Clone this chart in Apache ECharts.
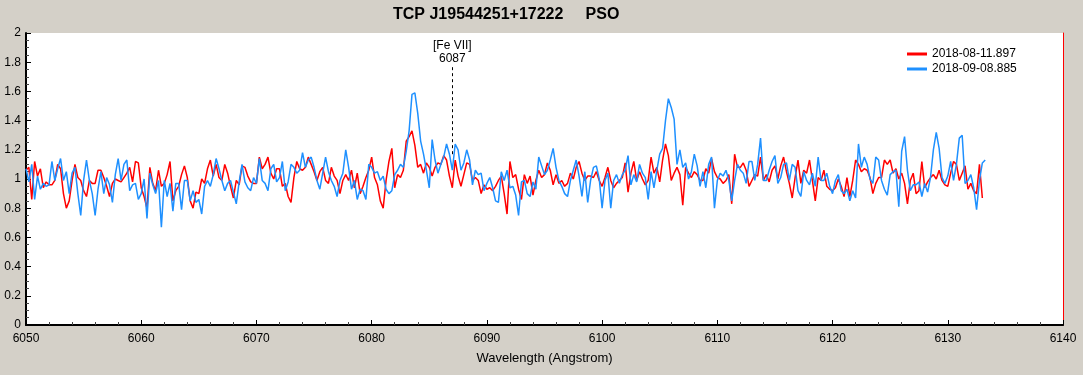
<!DOCTYPE html>
<html>
<head>
<meta charset="utf-8">
<script src="https://cdn.jsdelivr.net/npm/echarts@6/dist/echarts.min.js"></script>
<style>
    html, body { margin: 0; padding: 0; background: #d4d0c8; }
    #chartsdiv { width: 1083px; height: 375px; }
</style>
</head>
<body>
<div id="chartsdiv"></div>
<script>
// 波长网格 (Angstrom)
var waveStart = 6050;
var waveStep = 0.25;
var xTicks = [6050, 6060, 6070, 6080, 6090, 6100, 6110, 6120, 6130, 6140];
var seriesNames = ['2018-08-11.897', '2018-09-08.885'];
var lineMark = { wave: 6087, label: '[Fe VII]\n6087' };

// 2018-08-11.897 (红)
var fluxRed = [
    1.06,1.08,0.86,1.12,1.02,1.07,0.94,0.98,0.96,0.96,0.99,1.10,1.07,0.90,0.80,0.85,0.99,1.10,1.01,0.99,
    0.92,0.88,0.99,0.97,0.97,1.06,1.06,1.01,0.95,0.88,0.97,1.00,0.99,0.98,1.01,1.04,1.08,0.98,1.12,1.11,
    0.94,0.88,0.80,1.08,
    0.97,0.92,1.06,0.95,0.97,1.03,1.12,0.85,0.92,0.95,1.03,1.09,1.01,0.85,0.80,0.91,0.90,1.00,0.97,1.07,
    1.13,1.02,1.10,1.01,0.99,1.10,1.04,0.95,0.87,0.99,0.96,1.09,1.08,1.02,0.98,0.97,0.97,1.15,1.07,1.10,1.15,
    1.04,1.00,1.07,1.07,0.95,0.97,0.88,0.84,1.01,1.12,1.07,1.06,1.08,1.15,1.10,1.05,0.99,1.05,1.08,0.99,
    0.97,1.08,1.02,0.99,0.90,0.99,1.03,0.99,1.06,0.94,1.04,0.90,0.95,1.01,1.06,1.15,1.01,0.96,0.85,0.80,0.99,1.12,
    1.21,0.94,1.03,1.01,1.06,1.26,1.29,1.33,1.23,1.08,1.10,1.04,1.11,1.08,1.02,1.08,1.11,1.10,1.16,1.13,
    1.02,0.94,1.13,1.02,0.95,1.03,1.11,1.10,0.99,1.01,0.99,0.90,0.96,0.93,0.94,0.92,0.95,0.99,1.02,0.90,0.76,
    1.12,1.01,1.03,0.93,0.86,1.03,0.97,1.02,0.89,0.99,1.06,1.01,1.03,1.11,1.06,0.96,1.03,0.97,0.99,0.95,
    0.97,1.04,1.00,1.08,1.12,1.04,0.99,1.02,1.02,1.01,1.05,0.99,0.95,1.01,1.08,0.99,0.94,0.97,0.99,1.01,1.11,0.91,
    1.04,1.12,0.99,1.05,1.00,0.96,0.99,1.15,1.04,1.08,0.98,1.13,1.24,1.16,0.99,1.04,1.08,1.03,0.82,1.08,
    1.04,1.01,1.05,1.03,0.99,0.99,1.07,1.04,1.14,1.05,1.01,1.00,0.97,0.99,1.03,0.83,1.17,1.08,1.08,1.11,1.06,0.95,
    0.99,1.03,1.02,1.15,0.99,1.03,0.98,1.06,1.09,1.00,1.09,1.15,1.05,0.97,0.87,1.01,1.13,0.97,1.06,1.04,
    1.13,0.99,0.85,1.01,0.99,1.06,0.95,0.93,0.92,0.94,1.00,0.95,0.88,1.01,0.88,0.99,1.13,1.10,1.05,1.07,1.06,
    1.01,0.90,0.97,1.01,1.01,1.13,1.10,1.13,1.04,1.07,1.00,1.04,0.97,0.83,0.99,1.04,0.90,0.92,1.12,0.94,
    0.98,1.01,1.03,1.00,1.06,0.99,0.96,0.95,1.04,1.12,1.10,0.99,1.04,1.09,0.93,0.97,0.92,0.90,1.10,0.87
];

// 2018-09-08.885 (蓝)
var fluxBlue = [
    1.07,0.98,1.10,0.86,1.02,0.93,0.97,0.95,0.96,1.12,0.99,1.07,1.14,0.99,1.05,0.90,1.04,1.08,0.90,0.75,
    0.99,1.13,0.99,0.90,0.75,0.93,1.05,0.90,1.01,0.96,0.84,1.03,1.14,0.99,1.10,1.13,0.92,0.96,0.97,0.86,
    0.90,1.00,0.73,1.04,
    0.96,0.90,0.99,0.67,0.99,0.88,0.97,0.78,0.97,0.97,0.79,0.99,0.99,0.85,0.92,0.84,0.86,0.76,0.95,0.99,
    0.95,1.03,1.14,1.07,0.99,0.92,0.97,0.99,0.91,0.83,0.98,1.10,0.98,0.94,0.92,1.01,0.97,1.14,0.99,0.97,0.92,
    1.07,1.10,0.98,1.01,1.12,0.92,0.98,1.10,1.08,1.04,1.06,1.18,1.08,1.13,1.15,1.08,0.99,0.93,1.04,1.15,
    1.05,0.99,0.95,0.88,0.99,1.04,1.20,1.08,0.93,0.99,0.86,0.93,0.92,0.86,1.10,1.08,1.04,1.05,0.99,1.02,0.93,0.90,
    0.92,1.03,1.06,1.10,1.08,1.19,1.33,1.58,1.59,1.45,1.26,1.17,1.06,0.94,1.27,1.13,1.04,1.10,1.15,1.24,
    1.17,1.06,1.24,1.20,1.06,1.11,1.20,1.13,0.96,1.06,1.03,1.04,0.92,0.97,1.01,0.94,0.85,0.84,1.05,0.99,1.06,
    0.94,0.95,0.89,0.75,0.98,0.99,0.90,0.88,0.98,0.93,1.15,1.09,1.03,1.06,1.13,1.21,1.08,0.99,0.95,0.90,
    0.88,0.99,1.06,1.13,1.02,0.88,1.05,0.84,0.99,1.08,1.09,1.00,0.80,0.99,1.04,0.80,0.99,1.03,0.97,1.03,1.06,1.16,
    0.96,1.03,0.98,1.10,1.04,1.01,0.86,1.05,0.94,1.06,1.17,1.21,1.40,1.55,1.49,1.41,1.10,1.20,1.08,1.11,
    1.00,1.05,1.17,1.09,0.95,1.05,0.94,1.10,1.15,0.80,0.99,1.04,1.02,1.06,0.99,0.85,0.99,1.10,1.06,1.04,0.97,1.12,
    1.12,0.99,1.10,1.28,0.99,0.99,1.06,1.12,1.16,0.97,1.01,1.10,1.11,0.99,1.10,1.08,0.92,0.88,1.05,0.99,
    0.96,1.04,0.95,1.15,0.99,0.99,1.04,0.95,0.90,0.99,1.03,0.92,0.90,0.93,0.85,0.92,0.87,1.24,1.08,1.15,1.10,
    1.00,0.97,1.15,1.13,0.99,0.93,0.89,1.03,1.05,1.06,0.81,1.19,1.29,1.06,0.92,0.96,0.96,0.98,0.88,0.97,
    0.91,1.01,1.20,1.32,1.21,1.01,0.97,1.02,1.12,0.99,1.10,1.28,1.30,0.97,0.99,1.03,0.94,0.79,0.99,1.11,1.13
];

function toPoints(list) {
    var pts = [];
    for (var i = 0; i < list.length; i++) {
        pts.push([waveStart + i * waveStep, list[i]]);
    }
    return pts;
}

var myChart = echarts.init(document.getElementById('chartsdiv'));
var labelFont = 'Liberation Sans, Arial, sans-serif';

var option = {
    backgroundColor: '#d4d0c8',
    animation: false,
    textStyle: { fontFamily: labelFont },
    title: {
        text: 'TCP J19544251+17222     PSO',
        left: 388,
        top: 2,
        textStyle: { fontSize: 16, fontWeight: 'bold', color: '#000', fontFamily: labelFont }
    },
    legend: {
        data: seriesNames,
        orient: 'vertical',
        left: 902,
        top: 43,
        itemWidth: 20,
        itemHeight: 3,
        itemGap: 3,
        icon: 'rect',
        textStyle: { fontSize: 12, color: '#000', fontFamily: labelFont }
    },
    grid: {
        left: 26,
        right: 20,
        top: 33,
        bottom: 50,
        show: true,
        backgroundColor: '#fff',
        borderWidth: 0
    },
    xAxis: [{
        type: 'value',
        min: xTicks[0],
        max: xTicks[xTicks.length - 1],
        interval: 10,
        name: 'Wavelength (Angstrom)',
        nameLocation: 'middle',
        nameGap: 27,
        nameTextStyle: { fontSize: 13, color: '#000' },
        axisLine: { lineStyle: { color: '#000', width: 2 } },
        axisTick: { inside: true, length: 5, lineStyle: { color: '#000' } },
        minorTick: { show: true, splitNumber: 5, length: 3, lineStyle: { color: '#444' } },
        axisLabel: {
            fontSize: 12, color: '#000', margin: 8,
            formatter: function (v) { return String(v); }
        },
        splitLine: { show: false }
    }, {
        type: 'value',
        position: 'top',
        min: xTicks[0],
        max: xTicks[xTicks.length - 1],
        axisLine: { show: true, lineStyle: { color: '#000', width: 1 } },
        axisTick: { show: false },
        axisLabel: { show: false },
        splitLine: { show: false }
    }],
    yAxis: [{
        type: 'value',
        min: 0,
        max: 2,
        interval: 0.2,
        axisLine: { lineStyle: { color: '#000', width: 2 } },
        axisTick: { inside: true, length: 5, lineStyle: { color: '#000' } },
        minorTick: { show: true, splitNumber: 4, length: 3, lineStyle: { color: '#444' } },
        axisLabel: { fontSize: 12, color: '#000', margin: 5 },
        splitLine: { show: false }
    }, {
        type: 'value',
        min: 0,
        max: 2,
        position: 'right',
        axisLine: { show: true, lineStyle: { color: '#ff0000', width: 1 } },
        axisTick: { show: false },
        axisLabel: { show: false },
        splitLine: { show: false }
    }],
    series: [
        {
            name: seriesNames[0],
            type: 'line',
            data: toPoints(fluxRed),
            showSymbol: false,
            color: '#ff0000',
            lineStyle: { width: 1.5, color: '#ff0000' },
            markLine: {
                silent: true,
                symbol: 'none',
                lineStyle: { type: [3, 3], color: '#000', width: 1 },
                label: {
                    show: true,
                    position: 'end',
                    distance: 1,
                    formatter: lineMark.label,
                    fontSize: 12,
                    lineHeight: 13,
                    color: '#000'
                },
                data: [[{ coord: [lineMark.wave, 1.17] }, { coord: [lineMark.wave, 1.77] }]]
            }
        },
        {
            name: seriesNames[1],
            type: 'line',
            data: toPoints(fluxBlue),
            showSymbol: false,
            color: '#1e90ff',
            lineStyle: { width: 1.5, color: '#1e90ff' }
        }
    ]
};

// 使用刚指定的配置项和数据显示图表。
myChart.setOption(option);
</script>
</body>
</html>
